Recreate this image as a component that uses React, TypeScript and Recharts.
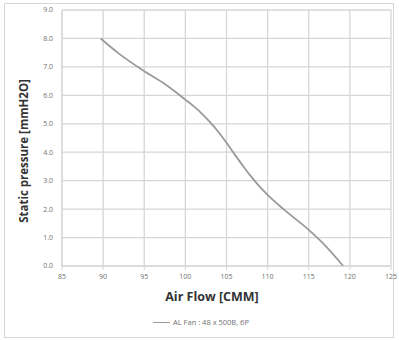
import { LineChart, Line, XAxis, YAxis, CartesianGrid } from "recharts";

const airFlow = [89.7, 92, 95, 97.5, 100, 101, 102, 103, 104, 105, 106, 107, 108, 109, 110, 112, 115, 117, 119.2];
const pressure = [8.0, 7.45, 6.85, 6.4, 5.85, 5.62, 5.36, 5.06, 4.72, 4.33, 3.92, 3.52, 3.14, 2.8, 2.5, 1.98, 1.27, 0.72, 0.0];
const xTicks = [85, 90, 95, 100, 105, 110, 115, 120, 125];
const yTicks = [0, 1, 2, 3, 4, 5, 6, 7, 8, 9];
const seriesName = "AL Fan : 48 x 500B, 6P";

const data = airFlow.map((x, i) => ({ flow: x, pressure: pressure[i] }));

const font = "'Open Sans', 'Noto Sans', sans-serif";
const gridColor = "#d6d6d6";
const lineColor = "#9a9a9a";
const tickStyle = { fill: "#707070", fontSize: 7, fontFamily: font };

function YTitle() {
  return (
    <text
      x={23}
      y={151}
      transform="rotate(-90 23 151)"
      textAnchor="middle"
      dominantBaseline="central"
      fontFamily={font}
      fontWeight={700}
      fontSize={11.5}
      fill="#333"
    >
      Static pressure [mmH2O]
    </text>
  );
}

function XTitle() {
  return (
    <text
      x={212}
      y={296}
      textAnchor="middle"
      dominantBaseline="central"
      fontFamily={font}
      fontWeight={700}
      fontSize={12.5}
      fill="#333"
    >
      Air Flow [CMM]
    </text>
  );
}

export default function App() {
  return (
    <div style={{ position: "fixed", left: 0, top: 0, width: 399, height: 340, background: "#fff" }}>
      <div
        style={{
          position: "absolute",
          left: 4,
          top: 3,
          width: 388,
          height: 333,
          border: `1px solid ${gridColor}`,
        }}
      />
      <div style={{ position: "absolute", left: 0, top: 0 }}>
        <LineChart width={399} height={340} data={data} margin={{ top: 10, right: 8, left: 0, bottom: 0 }}>
          <CartesianGrid stroke={gridColor} strokeWidth={1.3} />
          <XAxis
            dataKey="flow"
            type="number"
            domain={[85, 125]}
            ticks={xTicks}
            height={74}
            tick={tickStyle}
            tickSize={4}
            tickMargin={4}
            stroke={gridColor}
            label={<XTitle />}
          />
          <YAxis
            type="number"
            domain={[0, 9]}
            ticks={yTicks}
            width={62}
            tick={tickStyle}
            tickSize={0}
            tickMargin={9}
            tickFormatter={(v: number) => v.toFixed(1)}
            stroke={gridColor}
            label={<YTitle />}
          />
          <Line
            dataKey="pressure"
            type="monotone"
            stroke={lineColor}
            strokeWidth={1.8}
            dot={false}
            isAnimationActive={false}
          />
        </LineChart>
      </div>
      <div
        style={{
          position: "absolute",
          left: 153,
          top: 317,
          display: "flex",
          alignItems: "center",
          fontFamily: font,
          fontSize: 7.5,
          color: "#707070",
        }}
      >
        <span style={{ display: "inline-block", width: 17, height: 0, borderTop: `1.5px solid ${lineColor}`, marginRight: 3 }} />
        <span>{seriesName}</span>
      </div>
    </div>
  );
}
